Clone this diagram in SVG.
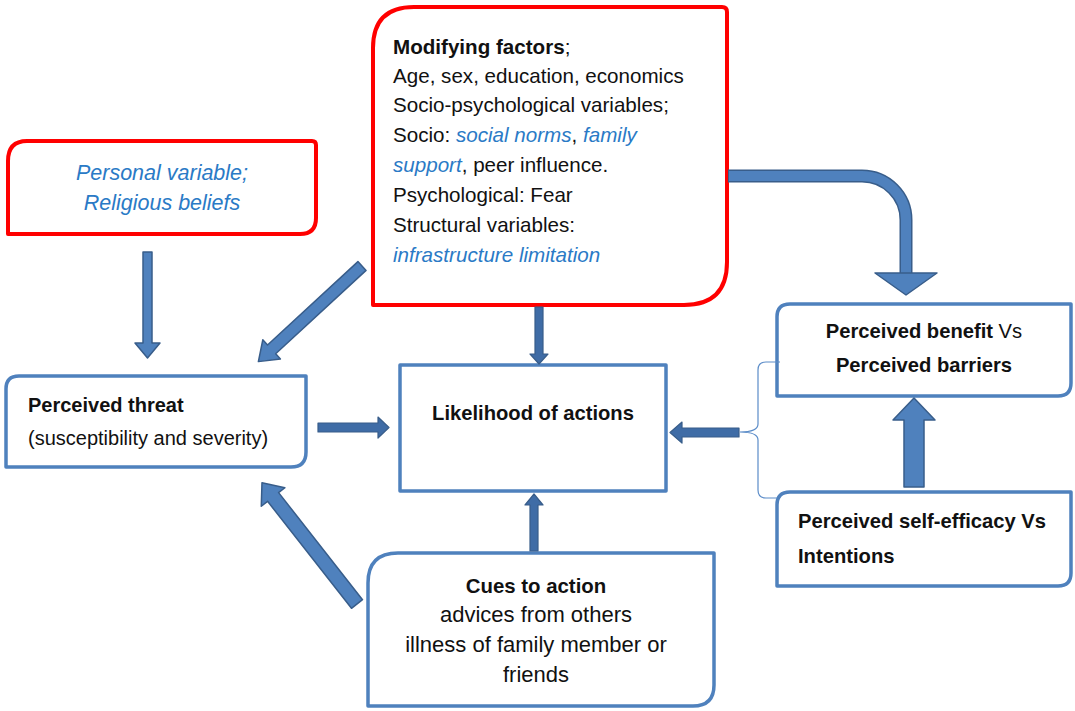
<svg xmlns="http://www.w3.org/2000/svg" width="1075" height="711" viewBox="0 0 1075 711">
<style>
.t{font-family:"Liberation Sans",Arial,sans-serif;fill:#111;}
.b{font-weight:bold;}
.it{font-style:italic;fill:#2A7AC6;}
.red{fill:#fff;stroke:#FF0000;stroke-width:4;stroke-linejoin:round;}
.blu{fill:#fff;stroke:#4F81BD;stroke-width:3.5;stroke-linejoin:round;}
.arr{fill:#4F81BD;stroke:#385D8A;stroke-width:1.5;stroke-linejoin:round;}
.arrd{fill:#3F6CA6;stroke:#385D8A;stroke-width:1.2;stroke-linejoin:round;}
</style>
<rect width="1075" height="711" fill="#fff"/>

<g id="personal">
<path class="red" d="M27,141 H312 Q316,141 316,145 V218 Q316,234 300,234 H8 V161 Q8,141 27,141 Z"/>
<text class="t it" x="162" y="180" font-size="21.5" text-anchor="middle">Personal variable;</text>
<text class="t it" x="162" y="210" font-size="21.5" text-anchor="middle">Religious beliefs</text>
</g>

<g id="modifying">
<path class="red" d="M414,7 H722 Q727,7 727,12 V262 Q727,305 684,305 H373 V48 Q373,7 414,7 Z"/>
<text class="t" font-size="20.6" x="393" y="54"><tspan class="b">Modifying factors</tspan>;</text>
<text class="t" font-size="20.6" x="393" y="83">Age, sex, education, economics</text>
<text class="t" font-size="20.6" x="393" y="112">Socio-psychological variables;</text>
<text class="t" font-size="20.6" x="393" y="142">Socio: <tspan class="it">social norms</tspan>, <tspan class="it">family</tspan></text>
<text class="t" font-size="20.6" x="393" y="172"><tspan class="it">support</tspan>, peer influence.</text>
<text class="t" font-size="20.6" x="393" y="202">Psychological: Fear</text>
<text class="t" font-size="20.6" x="393" y="232">Structural variables:</text>
<text class="t it" font-size="20.6" x="393" y="262">infrastructure limitation</text>
</g>

<g id="threat">
<path class="blu" d="M19,376 H306 V452 Q306,467 291,467 H6 V389 Q6,376 19,376 Z"/>
<text class="t b" font-size="20" x="28" y="412">Perceived threat</text>
<text class="t" font-size="20" x="28" y="445">(susceptibility and severity)</text>
</g>

<g id="likelihood">
<rect class="blu" x="400" y="365" width="266" height="126"/>
<text class="t b" font-size="20.2" x="533" y="420" text-anchor="middle">Likelihood of actions</text>
</g>

<g id="benefit">
<path class="blu" d="M790,304 H1071 V383 Q1071,396 1058,396 H777 V317 Q777,304 790,304 Z"/>
<text class="t" font-size="20.2" x="924" y="338" text-anchor="middle"><tspan class="b">Perceived benefit</tspan> Vs</text>
<text class="t b" font-size="20.2" x="924" y="372" text-anchor="middle">Perceived barriers</text>
</g>

<g id="efficacy">
<path class="blu" d="M790,492 H1071 V573 Q1071,586 1058,586 H777 V505 Q777,492 790,492 Z"/>
<text class="t b" font-size="20.2" x="798" y="528">Perceived self-efficacy Vs</text>
<text class="t b" font-size="20.2" x="798" y="563">Intentions</text>
</g>

<g id="cues">
<path class="blu" d="M398,553 H714 V685 Q714,706 693,706 H368 V583 Q368,553 398,553 Z"/>
<text class="t b" font-size="20.4" x="536" y="593" text-anchor="middle">Cues to action</text>
<text class="t" font-size="22" x="536" y="622" text-anchor="middle">advices from others</text>
<text class="t" font-size="22" x="536" y="652" text-anchor="middle">illness of family member or</text>
<text class="t" font-size="22" x="536" y="682" text-anchor="middle">friends</text>
</g>

<g id="connectors">
<polygon class="arr" points="143,252 152,252 152,343 160,343 147.5,358 135,343 143,343"/>
<polygon class="arr" transform="translate(362,266) rotate(137.3)" points="0,-6 123,-6 123,-13 141,0 123,13 123,6 0,6"/>
<polygon class="arrd" points="535,307 543,307 543,354 548,354 539,364 530,354 535,354"/>
<polygon class="arrd" points="318,423 378,423 378,417 389,427.5 378,438 378,432 318,432"/>
<polygon class="arrd" points="530,551 530,505 525,505 534,494 543,505 538,505 538,551"/>
<polygon class="arr" transform="translate(357,604) rotate(-128.1)" points="0,-7 136,-7 136,-15 154,0 136,15 136,7 0,7"/>
<polygon class="arrd" points="739,428 682,428 682,422 670,432.5 682,443 682,437 739,437"/>
<polygon class="arr" points="904,487 904,420 893,420 914,398 935,420 924,420 924,487"/>
<path d="M728,176 H862 A44,44 0 0 1 906,220 V274" fill="none" stroke="#385D8A" stroke-width="13"/>
<path d="M729,176 H862 A44,44 0 0 1 906,220 V275" fill="none" stroke="#4F81BD" stroke-width="10"/>
<polygon class="arr" points="875,273 937,273 906,295"/>
<path d="M780,362 H766 Q758,362 758,370 V424 Q758,432 740,432 Q758,432 758,440 V490 Q758,498 766,498 H777" fill="none" stroke="#5B8CC8" stroke-width="1.2"/>
</g>
</svg>
